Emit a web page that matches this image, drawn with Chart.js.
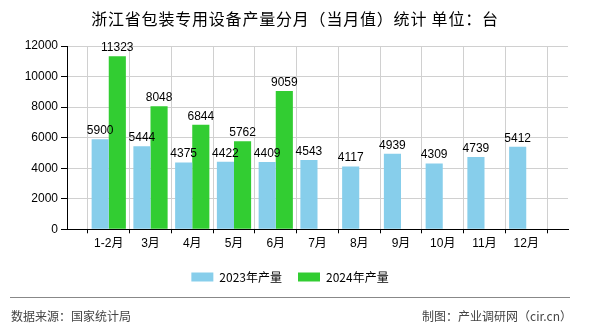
<!DOCTYPE html>
<html>
<head>
<meta charset="utf-8">
<script src="https://cdn.jsdelivr.net/npm/chart.js@4/dist/chart.umd.min.js"></script>
<style>
  html, body { margin: 0; padding: 0; background: #fff; }
  #wrap { position: relative; width: 590px; height: 330px; overflow: hidden; }
  #c { position: absolute; left: 0; top: 0; }
  .title { position: absolute; left: 0; top: 7px; width: 590px; text-align: center;
           font: 16px "Noto Sans CJK SC", sans-serif; color: #000; line-height: 22px; letter-spacing: 0.8px; }
  .sep { position: absolute; left: 10px; top: 297px; width: 560px; height: 0; border-top: 1px solid #888; }
  .foot { position: absolute; top: 307px; font: 12px "Noto Sans CJK SC", sans-serif; color: #444; line-height: 18px; }
</style>
</head>
<body>
<div id="wrap">
  <canvas id="c" width="590" height="330"></canvas>
  <div class="title">浙江省包装专用设备产量分月（当月值）统计 单位：台</div>
  <div class="sep"></div>
  <div class="foot" style="left:11px;">数据来源：国家统计局</div>
  <div class="foot" style="right:18px;">制图：产业调研网（cir.cn）</div>
</div>
<script>
const categories = ['1-2月', '3月', '4月', '5月', '6月', '7月', '8月', '9月', '10月', '11月', '12月'];
const series2023 = [5900, 5444, 4375, 4422, 4409, 4543, 4117, 4939, 4309, 4739, 5412];
const series2024 = [11323, 8048, 6844, 5762, 9059, null, null, null, null, null, null];
const seriesNames = ['2023年产量', '2024年产量'];
const yTicks = [0, 2000, 4000, 6000, 8000, 10000, 12000];

// one empty slot at each end of the axis, as in the reference
const labels = [''].concat(categories, ['']);
const pad = arr => [null].concat(arr, [null]);

const valueLabels = {
  id: 'valueLabels',
  afterDatasetsDraw(chart) {
    const ctx = chart.ctx;
    ctx.save();
    ctx.font = '12px "Liberation Sans", Arial, sans-serif';
    ctx.fillStyle = '#000';
    ctx.textAlign = 'center';
    ctx.textBaseline = 'alphabetic';
    chart.data.datasets.forEach((ds, di) => {
      const meta = chart.getDatasetMeta(di);
      meta.data.forEach((el, i) => {
        const v = ds.data[i];
        if (v === null || v === undefined) return;
        ctx.fillText(String(v), el.x, el.y - 5);
      });
    });
    ctx.restore();
  }
};

const tickFont = { family: '"Liberation Sans", "Noto Sans CJK SC", Arial, sans-serif', size: 12 };

new Chart(document.getElementById('c'), {
  type: 'bar',
  data: {
    labels: labels,
    datasets: [
      { label: seriesNames[0], data: pad(series2023), backgroundColor: '#87CEEB', borderWidth: 0,
        categoryPercentage: 0.82, barPercentage: 1, xAxisID: 'x', yAxisID: 'y' },
      { label: seriesNames[1], data: pad(series2024), backgroundColor: '#32CD32', borderWidth: 0,
        categoryPercentage: 0.82, barPercentage: 1, xAxisID: 'x', yAxisID: 'y' }
    ]
  },
  options: {
    responsive: false,
    animation: false,
    devicePixelRatio: 1,
    layout: { padding: { left: 0, right: 10, top: 46, bottom: 37 } },
    plugins: {
      legend: {
        display: true,
        position: 'bottom',
        labels: { boxWidth: 22, boxHeight: 9, padding: 16, color: '#000',
                  font: { family: '"Noto Sans CJK SC", "Liberation Sans", sans-serif', size: 12 } }
      },
      tooltip: { enabled: false },
      title: { display: false }
    },
    scales: {
      x: {
        type: 'category',
        offset: false,
        grid: { color: '#d0d0d0', tickColor: '#000', tickLength: 4, drawOnChartArea: true },
        border: { color: '#000', width: 1 },
        ticks: { color: '#000', font: tickFont, padding: 3, autoSkip: false, maxRotation: 0 },
        afterFit: s => { s.height = 25.7; }
      },
      y: {
        min: 0, max: 12000,
        afterBuildTicks: s => { s.ticks = yTicks.map(v => ({ value: v })); },
        grid: { color: '#d0d0d0', tickColor: '#000', tickLength: 6 },
        border: { color: '#000', width: 1 },
        ticks: { color: '#000', font: tickFont, padding: 3, callback: v => String(v) },
        afterFit: s => { s.width = 67; }
      },
      y2: {
        position: 'right',
        display: true,
        grid: { display: false, drawOnChartArea: false },
        border: { display: false },
        ticks: { display: false },
        afterFit: s => { s.width = 12; }
      }
    }
  },
  plugins: [valueLabels]
});
</script>
</body>
</html>
